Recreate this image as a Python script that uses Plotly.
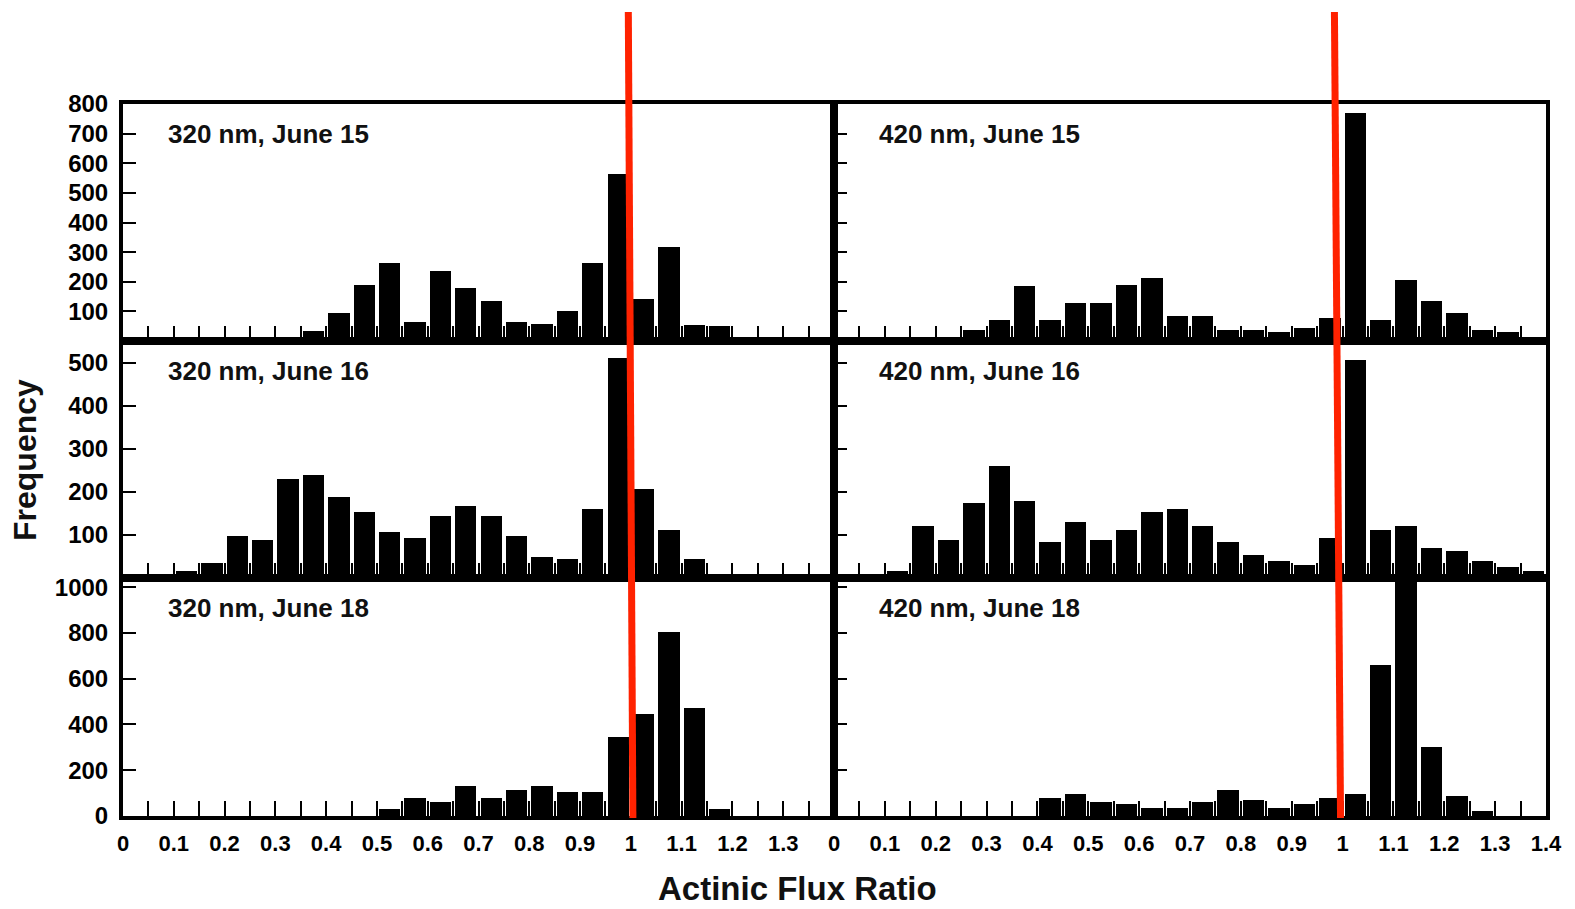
import plotly.graph_objects as go

# ---------------- data ----------------
bin_starts = [0.00, 0.05, 0.10, 0.15, 0.20, 0.25, 0.30, 0.35, 0.40, 0.45,
              0.50, 0.55, 0.60, 0.65, 0.70, 0.75, 0.80, 0.85, 0.90, 0.95,
              1.00, 1.05, 1.10, 1.15, 1.20, 1.25, 1.30, 1.35]

freq_320_jun15 = [0, 0, 0, 0, 0, 0, 0, 35, 95, 190, 262, 64, 235, 178, 135, 64,
                  58, 100, 262, 565, 142, 318, 55, 50, 0, 0, 0, 0]
freq_420_jun15 = [0, 0, 0, 0, 8, 36, 71, 185, 71, 128, 128, 190, 211, 86, 86, 36,
                  36, 29, 44, 79, 768, 71, 205, 134, 93, 36, 29, 15]
freq_320_jun16 = [0, 0, 16, 35, 97, 88, 230, 240, 188, 154, 107, 93, 144, 168, 144, 97,
                  49, 45, 159, 511, 206, 111, 45, 0, 0, 0, 0, 0]
freq_420_jun16 = [0, 0, 16, 120, 88, 173, 259, 178, 83, 130, 88, 111, 154, 159, 120, 83,
                  54, 40, 30, 93, 507, 111, 120, 69, 63, 40, 26, 16]
freq_320_jun18 = [0, 0, 0, 0, 0, 0, 0, 0, 0, 0, 30, 77, 61, 131, 77, 115,
                  131, 104, 104, 347, 444, 805, 473, 30, 0, 0, 0, 0]
freq_420_jun18 = [0, 0, 0, 0, 0, 0, 0, 0, 77, 97, 61, 51, 33, 33, 61, 115,
                  70, 33, 51, 77, 97, 659, 1100, 302, 87, 20, 0, 0]

panel_labels = ["320 nm, June 15", "420 nm, June 15",
                "320 nm, June 16", "420 nm, June 16",
                "320 nm, June 18", "420 nm, June 18"]

x_tick_vals = [0.00, 0.05, 0.10, 0.15, 0.20, 0.25, 0.30, 0.35, 0.40, 0.45, 0.50,
               0.55, 0.60, 0.65, 0.70, 0.75, 0.80, 0.85, 0.90, 0.95, 1.00,
               1.05, 1.10, 1.15, 1.20, 1.25, 1.30, 1.35, 1.40]
x_tick_text_right = ["0", "", "0.1", "", "0.2", "", "0.3", "", "0.4", "", "0.5",
                     "", "0.6", "", "0.7", "", "0.8", "", "0.9", "", "1",
                     "", "1.1", "", "1.2", "", "1.3", "", "1.4"]
x_tick_text_left = x_tick_text_right[:-1] + [""]

row_y_ranges = [[0, 800], [0, 550], [0, 1040]]
row_y_ticks = [[100, 200, 300, 400, 500, 600, 700, 800],
               [100, 200, 300, 400, 500],
               [0, 200, 400, 600, 800, 1000]]

reference_ratio = 1.0
x_title = "Actinic Flux Ratio"
y_title = "Frequency"

# ---------------- layout geometry ----------------
W, H = 1575, 909
col_px = [(123, 834), (834, 1546)]
row_px = [(104, 341), (341, 578), (578, 816)]


def fx(px):
    return px / W


def fy(py):
    return 1 - py / H


series = [freq_320_jun15, freq_420_jun15, freq_320_jun16,
          freq_420_jun16, freq_320_jun18, freq_420_jun18]

FONT = "Liberation Sans, Arial, Helvetica, sans-serif"

fig = go.Figure()
layout = dict(
    template="none",
    width=W, height=H, autosize=False,
    margin=dict(l=0, r=0, t=0, b=0, pad=0, autoexpand=False),
    paper_bgcolor="white", plot_bgcolor="white",
    showlegend=False,
    bargap=0,
    font=dict(family=FONT, color="black"),
)

annotations = []
for i, vals in enumerate(series):
    r, c = divmod(i, 2)
    n = i + 1
    xa = "x" if n == 1 else f"x{n}"
    ya = "y" if n == 1 else f"y{n}"
    fig.add_trace(go.Bar(
        x=bin_starts, y=vals, xaxis=xa, yaxis=ya,
        width=0.042, offset=0.004,
        marker=dict(color="black", line=dict(width=0)),
        hoverinfo="x+y",
    ))
    x0, x1 = col_px[c]
    y0, y1 = row_px[r]
    bottom = (r == 2)
    layout[f"xaxis{'' if n == 1 else n}"] = dict(
        domain=[fx(x0), fx(x1)], anchor=ya, range=[0, 1.4],
        automargin=False,
        showgrid=False, zeroline=False,
        showline=True, linecolor="black", linewidth=4, mirror=True,
        ticks="inside", ticklen=15, tickwidth=2, tickcolor="black",
        tickmode="array", tickvals=x_tick_vals,
        ticktext=(x_tick_text_left if c == 0 else x_tick_text_right),
        showticklabels=bottom,
        tickfont=dict(family=FONT, size=22, weight="bold", color="black"),
        ticklabelstandoff=5,
    )
    layout[f"yaxis{'' if n == 1 else n}"] = dict(
        domain=[fy(y1), fy(y0)], anchor=xa, range=row_y_ranges[r],
        automargin=False,
        showgrid=False, zeroline=False,
        showline=True, linecolor="black", linewidth=4, mirror=True,
        ticks="inside", ticklen=13, tickwidth=2, tickcolor="black",
        tickmode="array", tickvals=row_y_ticks[r],
        showticklabels=(c == 0),
        tickfont=dict(family=FONT, size=24, weight="bold", color="black"),
        ticklabelstandoff=6,
    )
    annotations.append(dict(
        text=panel_labels[i], xref=f"{xa} domain", yref=f"{ya} domain",
        x=0.06, y=0.875, xanchor="left", yanchor="middle", showarrow=False,
        font=dict(family=FONT, size=26, weight="bold", color="#111111"),
    ))

annotations.append(dict(
    text=x_title, xref="paper", yref="paper", x=fx(797), y=fy(888),
    xanchor="center", yanchor="middle", showarrow=False,
    font=dict(family=FONT, size=33, weight="bold", color="#111111"),
))
annotations.append(dict(
    text=y_title, xref="paper", yref="paper", x=fx(25), y=fy(460),
    xanchor="center", yanchor="middle", showarrow=False, textangle=-90,
    font=dict(family=FONT, size=32, weight="bold", color="#111111"),
))
layout["annotations"] = annotations

# hand-drawn red reference lines at ratio = 1 (slightly tilted)
shapes = []
for xa, tilt_top, tilt_bot in [("x5", -0.005, 0.004), ("x6", -0.016, -0.004)]:
    shapes.append(dict(
        type="line", xref=xa, yref="paper",
        x0=reference_ratio + tilt_top, y0=fy(12),
        x1=reference_ratio + tilt_bot, y1=fy(818),
        line=dict(color="#ff2200", width=7),
    ))
layout["shapes"] = shapes

fig.update_layout(**layout)

page_fix = ("document.body.style.margin='0';"
            "document.body.style.overflow='hidden';"
            "document.documentElement.style.overflow='hidden';")
fig.write_html("out.html", post_script=page_fix,
               config={"displayModeBar": False})
